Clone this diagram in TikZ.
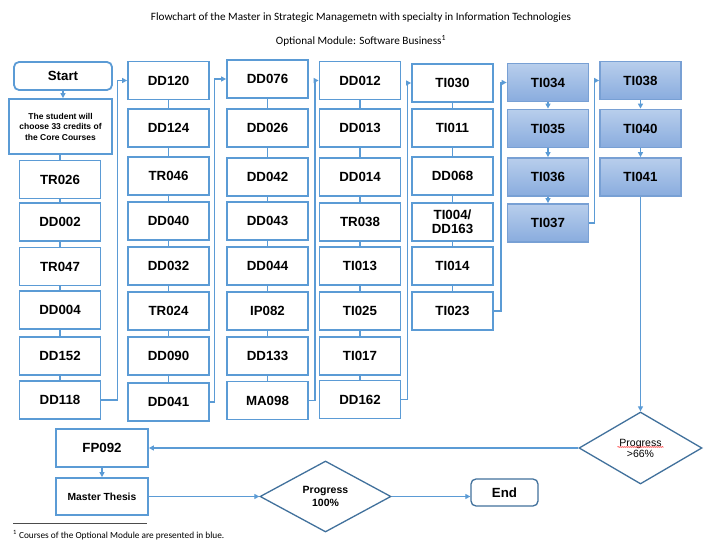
\documentclass[tikz,border=0pt]{standalone}
\usepackage{fontspec}
\setmainfont{Liberation Sans}
\newfontfamily\calib{Carlito}
\usetikzlibrary{arrows.meta,shapes.geometric,decorations.pathmorphing}
\definecolor{bl}{RGB}{91,155,213}
\definecolor{dk}{RGB}{65,113,156}
\definecolor{ft}{RGB}{184,206,236}
\definecolor{fb}{RGB}{137,172,222}
\definecolor{fd}{RGB}{120,160,212}
\begin{document}
\begin{tikzpicture}[x=1pt,y=-1pt,
 cbox/.style={draw=bl, line width=1.8pt, fill=white, minimum width=81pt, minimum height=38pt, inner sep=0pt, font=\fontsize{13.3}{15}\selectfont\bfseries, align=center},
 obox/.style={cbox, draw=fd, top color=ft, bottom color=fb},
 link/.style={draw=bl, line width=1.3pt},
 arr/.style={link, -{Triangle[length=5pt,width=5pt]}},
 dia/.style={diamond, draw=dk, line width=1.3pt, fill=white, inner sep=0pt, align=center},
]
\useasboundingbox[fill=white] (0,0) rectangle (716,543);

% titles
\node[font=\calib\fontsize{11.2}{13}\selectfont] (t1) at (361,18) {Flowchart of the Master in Strategic Managemetn with specialty in Information Technologies};
\node[font=\calib\fontsize{11.2}{13}\selectfont] (t2) at (361,41) {Optional Module: Software Business\textsuperscript{1}};

% column 1
\node[cbox, rounded corners=5pt, minimum width=98pt, minimum height=28pt] (Start) at (63,76) {Start};
\node[cbox, minimum width=103pt, minimum height=55pt, font=\fontsize{8.5}{10.5}\selectfont\bfseries] (Stu) at (60.5,126.5) {The student will\\choose 33 credits of\\the Core Courses};
\node[cbox] (TR026) at (60,179.5) {TR026};
\node[cbox] (DD002) at (60,222) {DD002};
\node[cbox] (TR047) at (60,266.5) {TR047};
\node[cbox] (DD004) at (60,310) {DD004};
\node[cbox] (DD152) at (60,356) {DD152};
\node[cbox] (DD118) at (60,400) {DD118};

% column 2
\node[cbox] (DD120) at (168.5,80.5) {DD120};
\node[cbox] (DD124) at (168.5,128) {DD124};
\node[cbox] (TR046) at (168.5,176) {TR046};
\node[cbox] (DD040) at (168.5,221) {DD040};
\node[cbox] (DD032) at (168.5,266) {DD032};
\node[cbox] (TR024) at (168.5,311) {TR024};
\node[cbox] (DD090) at (168.5,356) {DD090};
\node[cbox] (DD041) at (168.5,402) {DD041};

% column 3
\node[cbox] (DD076) at (267.5,79) {DD076};
\node[cbox] (DD026) at (267.5,128) {DD026};
\node[cbox] (DD042) at (267.5,177) {DD042};
\node[cbox] (DD043) at (267.5,221) {DD043};
\node[cbox] (DD044) at (267.5,266) {DD044};
\node[cbox] (IP082) at (267.5,311) {IP082};
\node[cbox] (DD133) at (267.5,356) {DD133};
\node[cbox] (MA098) at (267.5,400.5) {MA098};

% column 4
\node[cbox] (DD012) at (360,80.5) {DD012};
\node[cbox] (DD013) at (360,128) {DD013};
\node[cbox] (DD014) at (360,177) {DD014};
\node[cbox] (TR038) at (360,222) {TR038};
\node[cbox] (TI013) at (360,266) {TI013};
\node[cbox] (TI025) at (360,311) {TI025};
\node[cbox] (TI017) at (360,356) {TI017};
\node[cbox] (DD162) at (360,399.5) {DD162};

% column 5
\node[cbox] (TI030) at (452.5,83) {TI030};
\node[cbox] (TI011) at (452.5,128) {TI011};
\node[cbox] (DD068) at (452.5,176) {DD068};
\node[cbox, font=\fontsize{13.3}{14.5}\selectfont\bfseries] (TIDD) at (452.5,222) {TI004/\\DD163};
\node[cbox] (TI014) at (452.5,266) {TI014};
\node[cbox] (TI023) at (452.5,311) {TI023};

% column 6 (optional module)
\node[obox] (TI034) at (548,82.5) {TI034};
\node[obox] (TI035) at (548,128.5) {TI035};
\node[obox] (TI036) at (548,177) {TI036};
\node[obox] (TI037) at (548,223) {TI037};

% column 7 (optional module)
\node[obox] (TI038) at (640.5,80.5) {TI038};
\node[obox] (TI040) at (640.5,128.5) {TI040};
\node[obox] (TI041) at (640.5,177) {TI041};

% bottom part
\node[dia, minimum width=123pt, minimum height=72pt, font=\fontsize{10.5}{11}\selectfont] (P66) at (640.5,448) {Progress\\>66\%};
\node[cbox, minimum width=92pt] (FP) at (102,448) {FP092};
\node[cbox, minimum width=92pt, minimum height=37pt, font=\fontsize{10.3}{12}\selectfont\bfseries] (MT) at (102,496.5) {Master Thesis};
\node[dia, minimum width=131pt, minimum height=71pt, font=\fontsize{10.5}{13}\selectfont\bfseries] (P100) at (325.5,496.5) {Progress\\100\%};
\node[cbox, draw=dk, line width=1.3pt, rounded corners=5pt, minimum width=67pt, minimum height=27pt] (End) at (504.5,492.5) {End};

% connectors column 1
\draw[arr] (Start.south) -- (Start.south |- Stu.north);
\draw[link] (TR026.north |- Stu.south) -- (TR026.north);
\draw[link] (TR026) -- (DD002);
\draw[link] (DD002) -- (TR047);
\draw[link] (TR047) -- (DD004);
\draw[link] (DD004) -- (DD152);
\draw[link] (DD152) -- (DD118);
\draw[arr] (DD118.east) -- ++(16,0) |- (DD120.west);

% column 2
\draw[link] (DD120) -- (DD124);
\draw[link] (DD124) -- (TR046);
\draw[link] (TR046) -- (DD040);
\draw[link] (DD040) -- (DD032);
\draw[link] (DD032) -- (TR024);
\draw[link] (TR024) -- (DD090);
\draw[link] (DD090) -- (DD041);
\draw[arr] (DD041.east) -- ++(4.5,0) |- (DD076.west);

% column 3
\draw[link] (DD076) -- (DD026);
\draw[link] (DD026) -- (DD042);
\draw[link] (DD042) -- (DD043);
\draw[link] (DD043) -- (DD044);
\draw[link] (DD044) -- (IP082);
\draw[link] (IP082) -- (DD133);
\draw[link] (DD133) -- (MA098);
\draw[arr] (MA098.east) -- ++(6,0) |- (DD012.west);

% column 4
\draw[link] (DD012) -- (DD013);
\draw[link] (DD013) -- (DD014);
\draw[link] (DD014) -- (TR038);
\draw[link] (TR038) -- (TI013);
\draw[link] (TI013) -- (TI025);
\draw[link] (TI025) -- (TI017);
\draw[link] (TI017) -- (DD162);
\draw[arr] (DD162.east) -- ++(6,0) |- (TI030.west);

% column 5
\draw[link] (TI030) -- (TI011);
\draw[link] (TI011) -- (DD068);
\draw[link] (DD068) -- (TIDD);
\draw[link] (TIDD) -- (TI014);
\draw[link] (TI014) -- (TI023);
\draw[arr] (TI023.east) -- ++(7,0) |- (TI034.west);

% column 6
\draw[arr] (TI034.south) -- (TI035.north);
\draw[arr] (TI035.south) -- (TI036.north);
\draw[arr] (TI036.south) -- (TI037.north);
\draw[arr] (TI037.east) -- ++(5,0) |- (TI038.west);

% column 7
\draw[arr] (TI038.south) -- (TI040.north);
\draw[arr] (TI040.south) -- (TI041.north);
\draw[arr] (TI041.south) -- (P66.north);

% bottom
\draw[arr] (P66.west) -- (P66.west -| FP.east);
\draw[arr] (FP.south) -- (MT.north);
\draw[arr] (MT.east) -- (P100.west);
\draw[arr] (P100.east) -- (P100.east -| End.west);

% spell-check squiggle
\draw[red, line width=0.5pt, decorate, decoration={snake, amplitude=0.5pt, segment length=2pt}] ([shift={(-23,-1)}]P66.center) -- ++(46,0);

% footnote
\draw[gray!60!black, line width=0.8pt] (13,523) -- (147,523);
\node[anchor=west, inner sep=0pt, font=\calib\fontsize{9.3}{11}\selectfont] (fn) at (13,535) {\textsuperscript{1} Courses of the Optional Module are presented in blue.};
\end{tikzpicture}
\end{document}
